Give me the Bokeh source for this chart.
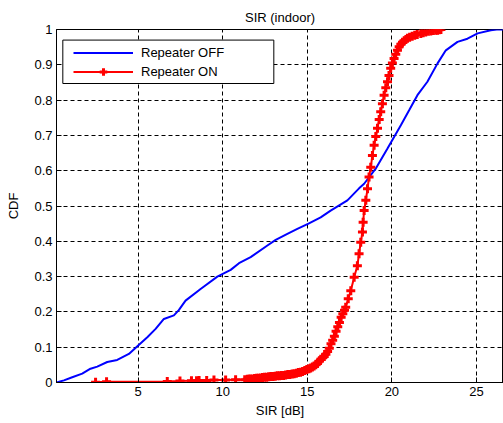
from bokeh.plotting import figure
from bokeh.models import Legend, LegendItem, FixedTicker, Range1d, BoxAnnotation
from bokeh.embed import file_html
from bokeh.resources import INLINE

# Repeater OFF (blue) CDF
off_x = [0.17, 0.61, 1.10, 1.69, 2.18, 2.58, 3.17, 3.76, 4.45, 5.00, 5.54, 6.03, 6.52,
         7.11, 7.40, 7.80, 8.69, 9.68, 10.47, 10.96, 11.65, 12.64, 13.13, 13.82, 14.41,
         15.07, 15.79, 16.38, 17.37, 18.06, 18.36, 18.95, 19.05, 19.74, 20.53, 21.02,
         21.51, 22.10, 22.70, 23.19, 23.88, 24.47, 25.07, 25.85, 26.20, 26.60]
off_y = [0.000, 0.006, 0.015, 0.025, 0.039, 0.045, 0.058, 0.064, 0.081, 0.105, 0.128,
         0.152, 0.180, 0.190, 0.205, 0.232, 0.265, 0.300, 0.319, 0.338, 0.355, 0.388,
         0.404, 0.421, 0.435, 0.450, 0.468, 0.487, 0.516, 0.550, 0.563, 0.600, 0.606,
         0.663, 0.729, 0.771, 0.814, 0.852, 0.904, 0.941, 0.965, 0.974, 0.989, 0.998,
         1.000, 1.000]

# Repeater ON (red) CDF
on_x = [2.48, 3.13, 6.72, 7.47, 8.15, 8.45, 8.60, 9.05, 9.48, 10.17, 10.76, 11.30,
        11.45, 11.55, 11.62, 11.75, 11.88, 12.00, 12.10, 12.22, 12.35, 12.47, 12.60,
        12.72, 12.85, 12.97, 13.10, 13.22, 13.35, 13.47, 13.60, 13.72, 13.85, 13.97,
        14.10, 14.22, 14.35, 14.47, 14.60, 14.72, 14.85, 14.97, 15.10, 15.20, 15.30,
        15.40, 15.50, 15.60, 15.70, 15.80, 15.90, 16.00, 16.10, 16.20, 16.30, 16.40,
        16.50, 16.60, 16.70, 16.80, 16.90, 17.00, 17.10, 17.20, 17.27, 17.42, 17.57,
        17.77, 17.96, 18.06, 18.16, 18.26, 18.30, 18.36, 18.46, 18.56, 18.65, 18.75,
        18.85, 18.95, 19.05, 19.15, 19.25, 19.34, 19.44, 19.54, 19.64, 19.74, 19.83,
        19.93, 20.03, 20.13, 20.23, 20.33, 20.43, 20.53, 20.63, 20.73, 20.83, 20.92,
        21.05, 21.20, 21.35, 21.50, 21.71, 21.85, 22.00, 22.15, 22.30, 22.45, 22.60,
        22.70, 22.80, 22.90]
on_y = [0.001, 0.002, 0.003, 0.004, 0.005, 0.005, 0.006, 0.006, 0.007, 0.007, 0.008,
        0.008, 0.009, 0.009, 0.010, 0.010, 0.011, 0.012, 0.012, 0.013, 0.014, 0.015,
        0.015, 0.016, 0.017, 0.017, 0.018, 0.019, 0.019, 0.020, 0.020, 0.021, 0.023,
        0.023, 0.024, 0.025, 0.026, 0.028, 0.029, 0.031, 0.034, 0.037, 0.039, 0.041,
        0.044, 0.047, 0.050, 0.054, 0.060, 0.066, 0.070, 0.074, 0.080, 0.088, 0.097,
        0.110, 0.120, 0.131, 0.145, 0.158, 0.170, 0.185, 0.195, 0.205, 0.213, 0.237,
        0.260, 0.298, 0.331, 0.365, 0.397, 0.426, 0.454, 0.487, 0.516, 0.549, 0.582,
        0.610, 0.643, 0.672, 0.697, 0.720, 0.745, 0.767, 0.790, 0.814, 0.835, 0.852,
        0.870, 0.890, 0.905, 0.918, 0.930, 0.941, 0.951, 0.958, 0.964, 0.968, 0.972,
        0.975, 0.978, 0.981, 0.984, 0.986, 0.989, 0.991, 0.993, 0.995, 0.996, 0.997,
        0.998, 0.998, 0.999, 1.000]

x_ticks = [5, 10, 15, 20, 25]
y_ticks = [0, 0.1, 0.2, 0.3, 0.4, 0.5, 0.6, 0.7, 0.8, 0.9, 1]
y_label_overrides = {0: "0", 1: "1"}

FONT = "Liberation Sans"

p = figure(width=503, height=423, output_backend="svg", toolbar_location=None,
           x_range=Range1d(0.17, 26.6), y_range=Range1d(0, 1),
           min_border_left=56, min_border_right=0, min_border_top=29,
           min_border_bottom=41, title="SIR (indoor)",
           x_axis_label="SIR [dB]", y_axis_label="CDF")

p.background_fill_color = "white"
p.border_fill_color = "white"
p.outline_line_color = "black"
p.outline_line_width = 1

p.title.align = "center"
p.title.text_font = FONT
p.title.text_font_size = "13px"
p.title.text_font_style = "normal"
p.title.text_color = "black"

for ax in (p.xaxis[0], p.yaxis[0]):
    ax.axis_label_text_font = FONT
    ax.axis_label_text_font_size = "13px"
    ax.axis_label_text_font_style = "normal"
    ax.axis_label_text_color = "black"
    ax.major_label_text_font = FONT
    ax.major_label_text_font_size = "13px"
    ax.major_label_text_color = "black"
    ax.major_tick_in = 5
    ax.major_tick_out = 0
    ax.minor_tick_in = 0
    ax.minor_tick_out = 0
    ax.axis_line_color = "black"
    ax.major_tick_line_color = "black"
    ax.major_label_standoff = 4

p.xaxis[0].ticker = FixedTicker(ticks=x_ticks)
p.yaxis[0].ticker = FixedTicker(ticks=y_ticks)
p.yaxis[0].major_label_overrides = y_label_overrides
p.xaxis[0].axis_label_standoff = 4
p.yaxis[0].axis_label_standoff = 10

for g in (p.xgrid[0], p.ygrid[0]):
    g.grid_line_color = "black"
    g.grid_line_alpha = 1.0
    g.grid_line_dash = "4 3"
    g.grid_line_width = 1

r_off = p.line(off_x, off_y, line_color="#0000ff", line_width=2)
r_on_line = p.line(on_x, on_y, line_color="#ff0000", line_width=2)
r_on_mark = p.scatter(on_x, on_y, marker="cross", size=9, line_color="#ff0000",
                      line_width=3)

# legend frame (MATLAB-style box)
box = BoxAnnotation(left=0.544, right=13.02, bottom=0.847, top=0.970,
                    fill_color="white", fill_alpha=1.0,
                    line_color="black", line_width=1, line_alpha=1.0)
p.add_layout(box)

legend = Legend(items=[LegendItem(label="Repeater OFF", renderers=[r_off]),
                       LegendItem(label="Repeater ON", renderers=[r_on_line, r_on_mark])],
                location=(17, 301), padding=0, spacing=0, margin=0,
                glyph_width=60, glyph_height=19, label_height=19,
                label_standoff=8, label_width=110,
                border_line_color=None, background_fill_alpha=0.0,
                label_text_font=FONT, label_text_font_size="13px",
                label_text_color="black")
p.add_layout(legend)

open("out.html", "w").write(file_html(p, INLINE))
